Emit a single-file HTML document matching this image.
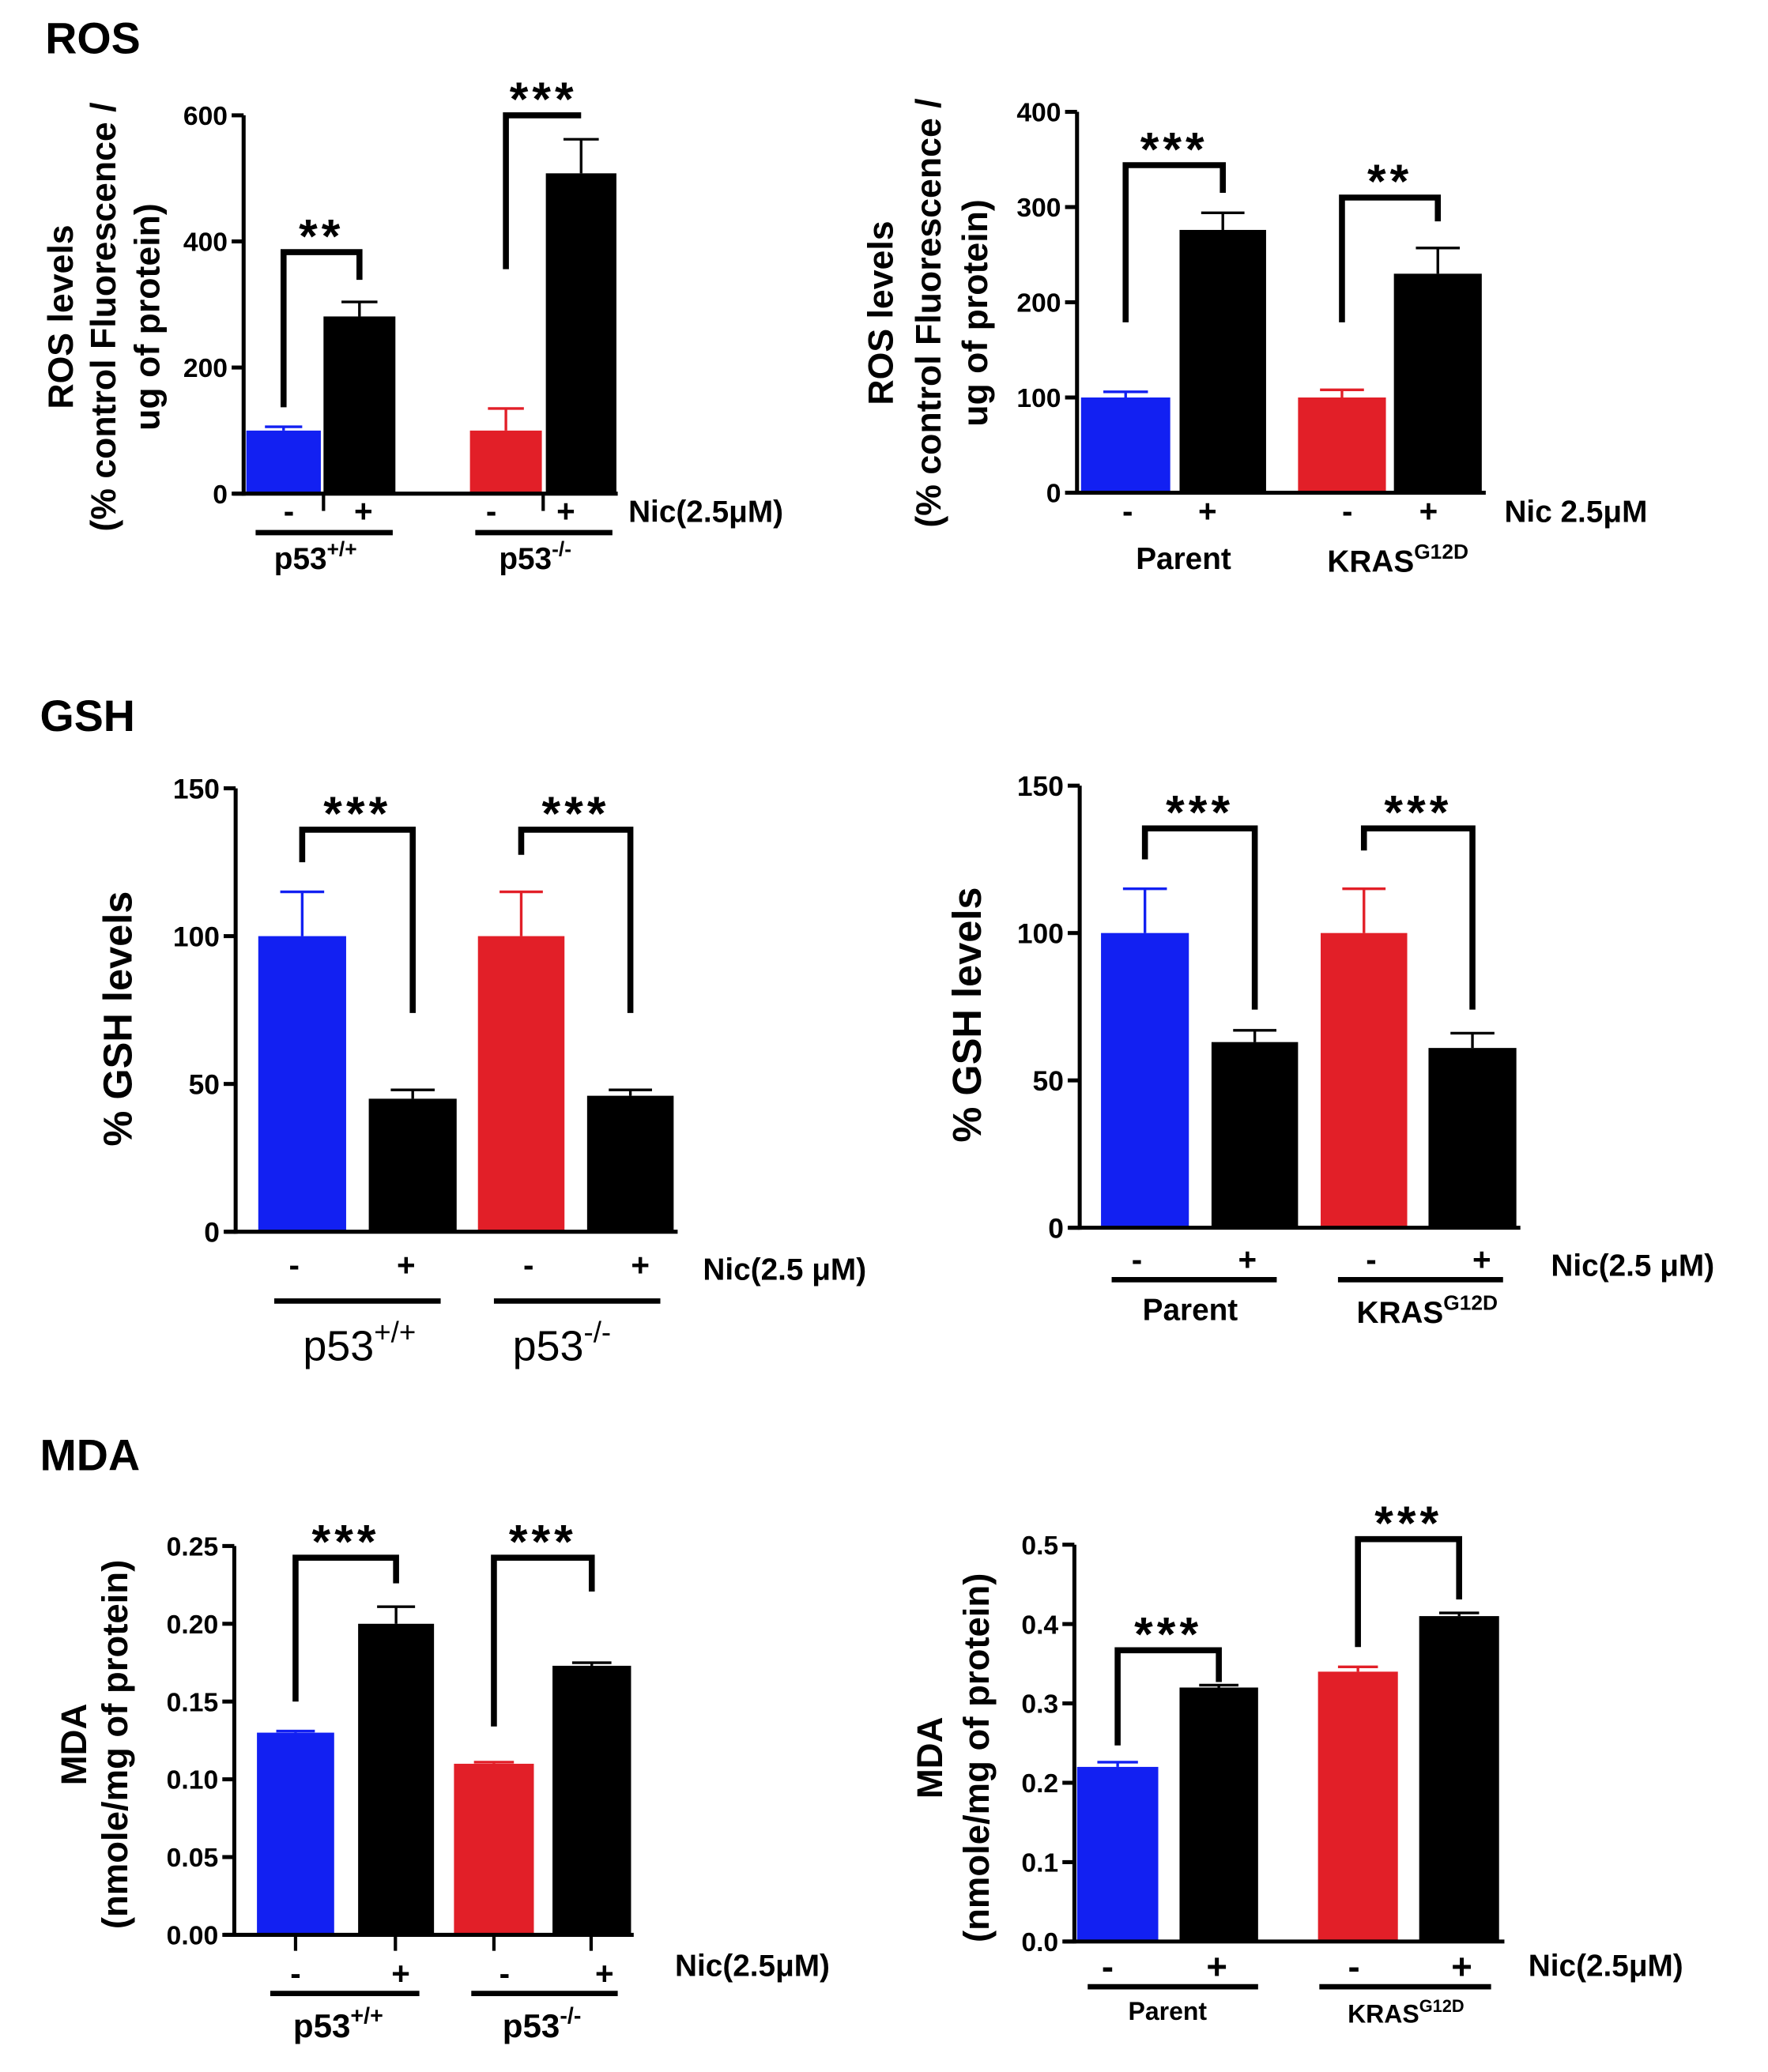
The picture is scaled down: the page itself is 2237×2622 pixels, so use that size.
<!DOCTYPE html>
<html><head><meta charset="utf-8"><style>
html,body{margin:0;padding:0;background:#fff;}
svg{display:block;}
text{font-family:"Liberation Sans",Arial,sans-serif;fill:#000;}
</style></head><body>
<svg id="fig" xmlns="http://www.w3.org/2000/svg" width="2237" height="2622" viewBox="0 0 1328 1556" preserveAspectRatio="none">
<text x="34" y="40" font-size="33" font-weight="bold">ROS</text>
<text x="30" y="549" font-size="33" font-weight="bold">GSH</text>
<text x="30" y="1104" font-size="33" font-weight="bold">MDA</text>
</svg>
<script>
// ---- data ----
const conditions = ['-', '+', '-', '+'];
const rosLeftValues = [100, 281, 100, 508];
const rosLeftErrTops = [106, 304, 135, 562];
const rosLeftBracketTops = [383, 600];
const rosLeftBracketLeft = [137, 356];
const rosLeftBracketRight = [339, 600];
const rosLeftStars = ['**', '***'];
const rosLeftTicks = [0, 200, 400, 600];
const rosLeftTickLabels = ['0', '200', '400', '600'];

const rosRightValues = [100, 276, 100, 230];
const rosRightErrTops = [106, 294, 108, 257];
const rosRightBracketTops = [344, 310];
const rosRightBracketLeft = [179, 179];
const rosRightBracketRight = [315, 285];
const rosRightStars = ['***', '**'];
const rosRightTicks = [0, 100, 200, 300, 400];
const rosRightTickLabels = ['0', '100', '200', '300', '400'];

const gshLeftValues = [100, 45, 100, 46];
const gshLeftErrTops = [115, 48, 115, 48];
const gshLeftBracketTops = [136, 136];
const gshLeftBracketLeft = [125, 127.5];
const gshLeftBracketRight = [74, 74];
const gshLeftStars = ['***', '***'];
const gshTicks = [0, 50, 100, 150];
const gshTickLabels = ['0', '50', '100', '150'];

const gshRightValues = [100, 63, 100, 61];
const gshRightErrTops = [115, 67, 115, 66];
const gshRightBracketTops = [135.5, 135.5];
const gshRightBracketLeft = [125, 128];
const gshRightBracketRight = [74, 74];
const gshRightStars = ['***', '***'];

const mdaLeftValues = [0.13, 0.20, 0.11, 0.173];
const mdaLeftErrTops = [0.131, 0.211, 0.111, 0.175];
const mdaLeftBracketTops = [0.2425, 0.2425];
const mdaLeftBracketLeft = [0.150, 0.134];
const mdaLeftBracketRight = [0.226, 0.2207];
const mdaLeftStars = ['***', '***'];
const mdaLeftTicks = [0, 0.05, 0.10, 0.15, 0.20, 0.25];
const mdaLeftTickLabels = ['0.00', '0.05', '0.10', '0.15', '0.20', '0.25'];

const mdaRightValues = [0.22, 0.32, 0.34, 0.41];
const mdaRightErrTops = [0.226, 0.323, 0.346, 0.414];
const mdaRightBracketTops = [0.367, 0.507];
const mdaRightBracketLeft = [0.247, 0.371];
const mdaRightBracketRight = [0.327, 0.431];
const mdaRightStars = ['***', '***'];
const mdaRightTicks = [0, 0.1, 0.2, 0.3, 0.4, 0.5];
const mdaRightTickLabels = ['0.0', '0.1', '0.2', '0.3', '0.4', '0.5'];

// ---- rendering ----
const NS = 'http://www.w3.org/2000/svg';
const svg = document.getElementById('fig');
const BLUE = '#1220f2', RED = '#e21f28', BLACK = '#000';
const COLORS = [BLUE, BLACK, RED, BLACK];
function mk(tag, attrs, parent) {
  const e = document.createElementNS(NS, tag);
  for (const k in attrs) e.setAttribute(k, attrs[k]);
  (parent || svg).appendChild(e);
  return e;
}

function draw(L, values, errTops, bTops, bLeft, bRight, stars, ticks, tickLabels) {
  const g = mk('g', {});
  
  
  const yScale = v => L.y0 - (v / L.yMax) * (L.y0 - L.yTopPx);
  const cx = i => (L.bars[i][0] + L.bars[i][1]) / 2;
  values.forEach((v, i) => {
    const r = mk('rect', {x: L.bars[i][0], y: yScale(v), width: L.bars[i][1] - L.bars[i][0], height: L.y0 - yScale(v), fill: COLORS[i]}, g);
    
    
  });
  errTops.forEach((e, i) => {
    const w = (L.bars[i][1] - L.bars[i][0]) * 0.5;
    const eg = mk('g', {stroke: COLORS[i], 'stroke-width': 2, fill: 'none'}, g);
    
    
    mk('line', {x1: cx(i), x2: cx(i), y1: yScale(values[i]), y2: yScale(e)}, eg);
    mk('line', {x1: cx(i) - w / 2, x2: cx(i) + w / 2, y1: yScale(e), y2: yScale(e)}, eg);
  });
  const ya = mk('line', {x1: L.axisX, x2: L.axisX, y1: L.y0 + 1.5, y2: L.yTopPx, stroke: '#000', 'stroke-width': 3}, g);
  
  
  const xa = mk('line', {x1: L.axisX - 8, x2: L.axisEnd, y1: L.y0, y2: L.y0, stroke: '#000', 'stroke-width': 3}, g);
  
  
  ticks.forEach((t, i) => {
    const y = yScale(t);
    const tk = mk('line', {x1: L.axisX - 9, x2: L.axisX, y1: y, y2: y, stroke: '#000', 'stroke-width': 3}, g);
    
    
    const fs = L.tickFs || 20;
    const tl = mk('text', {x: L.axisX - 12, y: y + fs * 0.36, 'font-size': fs, 'font-weight': 'bold', 'text-anchor': 'end'}, g);
    tl.textContent = tickLabels[i];
    
    
  });
  (L.xTicks || []).forEach(x => {
    const xt = mk('line', {x1: x, x2: x, y1: L.y0, y2: L.y0 + L.xTickLen, stroke: '#000', 'stroke-width': 2.5}, g);
    
    
  });
  conditions.forEach((c, i) => {
    const t = mk('text', {x: L.condXs[i], y: L.condY + 8, 'font-size': L.condFs || 24, 'font-weight': 'bold', 'text-anchor': 'middle'}, g);
    t.textContent = c;
    
    
  });
  (L.underlines || []).forEach(u => {
    const ul = mk('line', {x1: u[0], x2: u[1], y1: L.underY, y2: L.underY, stroke: '#000', 'stroke-width': 4}, g);
    
    
  });
  L.groups.forEach(gr => {
    const t = mk('text', {x: gr.x, y: gr.y + gr.fs * 0.36, 'font-size': gr.fs, 'font-weight': gr.bold === false ? 'normal' : 'bold', 'text-anchor': 'middle'}, g);
    
    
    t.appendChild(document.createTextNode(gr.main));
    if (gr.sup) {
      const s = mk('tspan', {'font-size': gr.fs * 0.68, dy: -gr.fs * 0.42}, t);
      s.textContent = gr.sup;
    }
  });
  const nic = mk('text', {x: L.nic.x, y: L.nic.y + 8, 'font-size': L.nic.fs || 22, 'font-weight': 'bold'}, g);
  nic.textContent = L.nic.text;
  
  
  L.ytitle.forEach(l => {
    const fs = l.fs || 26.5;
    const bx = l.x + fs * 0.36;
    const t = mk('text', {x: bx, y: L.ytitleCy, 'font-size': fs, 'font-weight': 'bold', 'text-anchor': 'middle', transform: 'rotate(-90 ' + bx + ' ' + L.ytitleCy + ')'}, g);
    t.textContent = l.t;
    
    
  });
  bTops.forEach((bt, k) => {
    const xl = cx(2 * k), xr = cx(2 * k + 1);
    const yt = yScale(bt);
    const p = mk('path', {d: 'M' + xl + ' ' + yScale(bLeft[k]) + ' L' + xl + ' ' + yt + ' L' + xr + ' ' + yt + ' L' + xr + ' ' + yScale(bRight[k]), fill: 'none', stroke: '#000', 'stroke-width': 4.5, 'stroke-linejoin': 'miter'}, g);
    
    
    const st = mk('text', {x: (xl + xr) / 2, y: yt - 20 + 0.56 * 36, 'font-size': 36, 'font-weight': 'bold', 'text-anchor': 'middle', 'letter-spacing': 3}, g);
    st.textContent = stars[k];
    
    
  });
}

draw({id: 'ros-left', axisX: 183, y0: 370.7, yTopPx: 86.6, yMax: 600,
  bars: [[185, 241], [243, 297], [353, 407], [410, 463]], axisEnd: 464,
  xTicks: [243, 408], xTickLen: 13,
  condXs: [217, 273, 369, 425], condY: 384,
  underY: 400, underlines: [[192, 295], [357, 460]],
  groups: [{main: 'p53', sup: '+/+', x: 237, y: 419, fs: 23}, {main: 'p53', sup: '-/-', x: 402, y: 419, fs: 23}],
  nic: {text: 'Nic(2.5\u03BCM)', x: 472, y: 384, fs: 23},
  ytitle: [{t: 'ROS levels', x: 45}, {t: '(% control Fluorescence /', x: 77}, {t: 'ug of protein)', x: 110}], ytitleCy: 238
}, rosLeftValues, rosLeftErrTops, rosLeftBracketTops, rosLeftBracketLeft, rosLeftBracketRight, rosLeftStars, rosLeftTicks, rosLeftTickLabels);

draw({id: 'ros-right', axisX: 809, y0: 370, yTopPx: 84, yMax: 400,
  bars: [[812, 879], [886, 951], [975, 1041], [1047, 1113]], axisEnd: 1116,
  condXs: [847, 907, 1012, 1073], condY: 384,
  groups: [{main: 'Parent', x: 889, y: 419, fs: 23}, {main: 'KRAS', sup: 'G12D', x: 1050, y: 421, fs: 23}],
  nic: {text: 'Nic 2.5\u03BCM', x: 1130, y: 384, fs: 23},
  ytitle: [{t: 'ROS levels', x: 661}, {t: '(% control Fluorescence /', x: 697}, {t: 'ug of protein)', x: 732}], ytitleCy: 235
}, rosRightValues, rosRightErrTops, rosRightBracketTops, rosRightBracketLeft, rosRightBracketRight, rosRightStars, rosRightTicks, rosRightTickLabels);

draw({id: 'gsh-left', axisX: 177, y0: 925, yTopPx: 592, yMax: 150, tickFs: 21,
  bars: [[194, 260], [277, 343], [359, 424], [441, 506]], axisEnd: 509,
  condXs: [221, 305, 397, 481], condY: 950,
  underY: 977, underlines: [[206, 331], [371, 496]],
  groups: [{main: 'p53', sup: '+/+', x: 270, y: 1010, fs: 32, bold: false}, {main: 'p53', sup: '-/-', x: 422, y: 1010, fs: 32, bold: false}],
  nic: {text: 'Nic(2.5 \u03BCM)', x: 528, y: 953, fs: 23},
  ytitle: [{t: '% GSH levels', x: 88, fs: 30}], ytitleCy: 765
}, gshLeftValues, gshLeftErrTops, gshLeftBracketTops, gshLeftBracketLeft, gshLeftBracketRight, gshLeftStars, gshTicks, gshTickLabels);

draw({id: 'gsh-right', axisX: 811, y0: 922, yTopPx: 590, yMax: 150, tickFs: 21,
  bars: [[827, 893], [910, 975], [992, 1057], [1073, 1139]], axisEnd: 1142,
  condXs: [854, 937, 1030, 1113], condY: 946,
  underY: 961, underlines: [[835, 959], [1005, 1129]],
  groups: [{main: 'Parent', x: 894, y: 983, fs: 23}, {main: 'KRAS', sup: 'G12D', x: 1072, y: 985, fs: 23}],
  nic: {text: 'Nic(2.5 \u03BCM)', x: 1165, y: 950, fs: 23},
  ytitle: [{t: '% GSH levels', x: 726, fs: 30}], ytitleCy: 762
}, gshRightValues, gshRightErrTops, gshRightBracketTops, gshRightBracketLeft, gshRightBracketRight, gshRightStars, gshTicks, gshTickLabels);

draw({id: 'mda-left', axisX: 176, y0: 1453, yTopPx: 1161, yMax: 0.25, tickFs: 20,
  bars: [[193, 251], [269, 326], [341, 401], [415, 474]], axisEnd: 476,
  xTicks: [222, 297, 371, 444], xTickLen: 12,
  condXs: [222, 301, 379, 454], condY: 1482,
  underY: 1497, underlines: [[203, 315], [354, 464]],
  groups: [{main: 'p53', sup: '+/+', x: 254, y: 1521, fs: 25}, {main: 'p53', sup: '-/-', x: 407, y: 1521, fs: 25}],
  nic: {text: 'Nic(2.5\u03BCM)', x: 507, y: 1476, fs: 23},
  ytitle: [{t: 'MDA', x: 55, fs: 27}, {t: '(nmole/mg of protein)', x: 86, fs: 27}], ytitleCy: 1310
}, mdaLeftValues, mdaLeftErrTops, mdaLeftBracketTops, mdaLeftBracketLeft, mdaLeftBracketRight, mdaLeftStars, mdaLeftTicks, mdaLeftTickLabels);

draw({id: 'mda-right', axisX: 807, y0: 1458, yTopPx: 1160, yMax: 0.5, tickFs: 20,
  bars: [[809, 870], [886, 945], [990, 1050], [1066, 1126]], axisEnd: 1130,
  condXs: [832, 914, 1017, 1098], condY: 1478, condFs: 27,
  underY: 1492, underlines: [[817, 945], [991, 1120]],
  groups: [{main: 'Parent', x: 877, y: 1510, fs: 19}, {main: 'KRAS', sup: 'G12D', x: 1056, y: 1512, fs: 19}],
  nic: {text: 'Nic(2.5\u03BCM)', x: 1148, y: 1476, fs: 23},
  ytitle: [{t: 'MDA', x: 698, fs: 27}, {t: '(nmole/mg of protein)', x: 733, fs: 27}], ytitleCy: 1320
}, mdaRightValues, mdaRightErrTops, mdaRightBracketTops, mdaRightBracketLeft, mdaRightBracketRight, mdaRightStars, mdaRightTicks, mdaRightTickLabels);
</script>
</body></html>
